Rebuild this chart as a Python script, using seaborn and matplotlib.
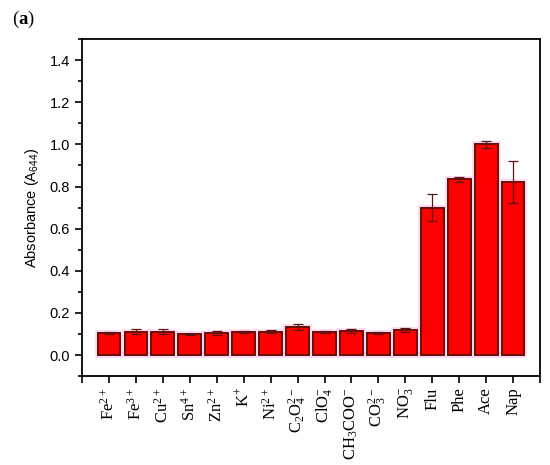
import pandas as pd
import numpy as np
import matplotlib
matplotlib.use("Agg")
import matplotlib.pyplot as plt
import matplotlib.patheffects as pe
from matplotlib.ticker import MultipleLocator
import seaborn as sns

# values
labels = [r'Fe$^{2+}$', r'Fe$^{3+}$', r'Cu$^{2+}$', r'Sn$^{4+}$', r'Zn$^{2+}$',
          r'K$^{+}$', r'Ni$^{2+}$', r'C$_2$O$_4^{2-}$', r'ClO$_4^{-}$',
          r'CH$_3$COO$^{-}$', r'CO$_3^{2-}$', r'NO$_3^{-}$',
          'Flu', 'Phe', 'Ace', 'Nap']
absorbance = [0.105, 0.112, 0.112, 0.098, 0.105, 0.110, 0.110, 0.132, 0.108,
              0.115, 0.105, 0.120, 0.700, 0.835, 1.000, 0.820]
errors = [0.004, 0.012, 0.012, 0.004, 0.008, 0.005, 0.007, 0.014, 0.005,
          0.008, 0.003, 0.008, 0.065, 0.012, 0.018, 0.100]

sns.set_theme(style="ticks")
plt.rcParams.update({
    'font.family': ['Liberation Sans', 'DejaVu Sans'],
    'mathtext.fontset': 'custom',
    'mathtext.rm': 'Liberation Serif',
    'mathtext.bf': 'Liberation Serif:bold',
    'mathtext.default': 'regular',
    'axes.linewidth': 1.3,
    'text.color': 'black',
    'xtick.color': 'black',
    'ytick.color': 'black',
    'axes.labelcolor': 'black',
})

df = pd.DataFrame({'ion': labels, 'abs': absorbance})

fig = plt.figure(figsize=(5.5, 4.65), dpi=100)
ax = fig.add_axes([0.149, 0.191, 0.833, 0.725])

sns.barplot(data=df, x='ion', y='abs', color='#ff0000', width=0.84,
            edgecolor='#5a1200', linewidth=1.2, saturation=1, ax=ax)
for p in ax.patches:
    p.set_path_effects([pe.withStroke(linewidth=4, foreground='#ffd4f4'), pe.Normal()])

ax.errorbar(np.arange(len(labels)), absorbance, yerr=errors, fmt='none',
            ecolor='#5a1515', elinewidth=0.9, capsize=3.5, capthick=0.9)

ax.set_xlim(-1, len(labels))
ax.set_ylim(-0.1, 1.5)
ax.set_xticks(np.arange(-1, len(labels) + 1))
ax.set_xticklabels([''] + labels + [''], rotation=90, fontsize=12,
                   family=['Liberation Serif', 'DejaVu Serif'])
ax.yaxis.set_minor_locator(MultipleLocator(0.1))
ax.set_yticks(np.arange(0, 1.41, 0.2))
ax.set_yticklabels([f'{v:.1f}' for v in np.arange(0, 1.41, 0.2)])
ax.tick_params(axis='y', which='major', direction='out', length=5, width=1.2, labelsize=10.5)
ax.tick_params(axis='y', which='minor', direction='out', length=3, width=1.2)
ax.tick_params(axis='x', which='major', direction='out', length=5, width=1.2, pad=3)

for s in ['top', 'right', 'left', 'bottom']:
    ax.spines[s].set_visible(True)
    ax.spines[s].set_color('black')

ax.set_xlabel('')
ax.set_ylabel(r'Absorbance (A$_{644}$)', fontsize=10.5, labelpad=6)

fig.text(0.022, 0.948, r'($\mathbf{a}$)', fontsize=13.5, family='Liberation Serif')

plt.savefig('out.png', dpi=100)
